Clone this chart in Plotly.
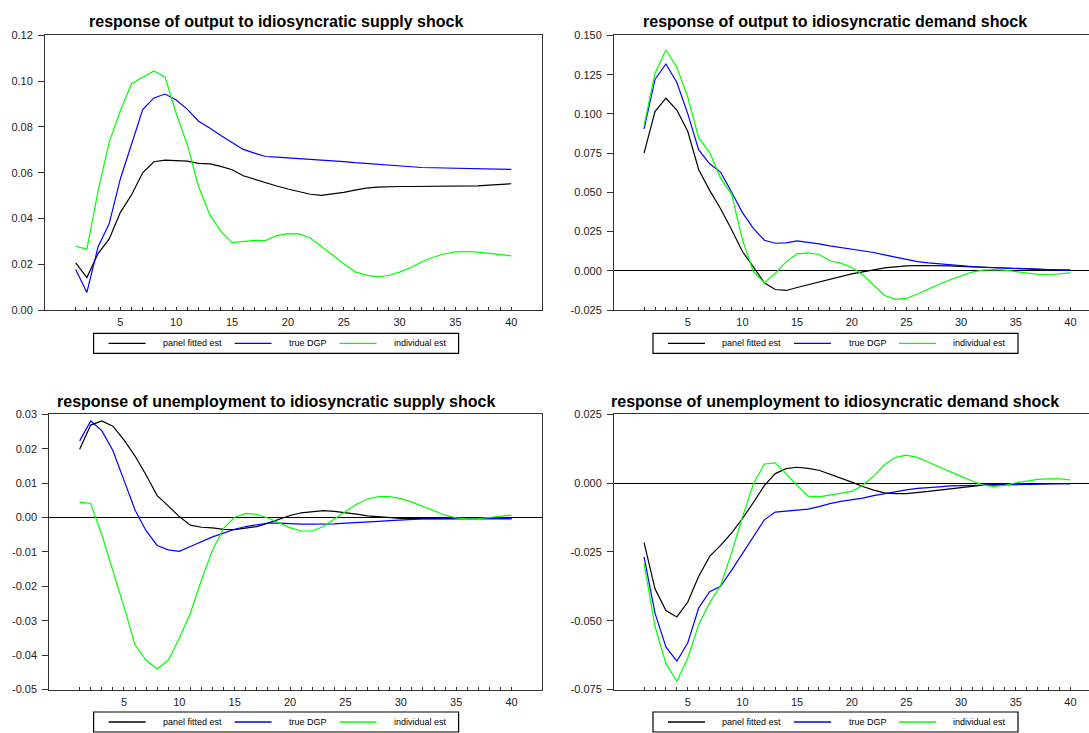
import plotly.graph_objects as go

W, H = 1089, 733
horizon = list(range(1, 41))

# Panel 1: response of output to idiosyncratic supply shock
out_sup_panel = [0.0206, 0.0142, 0.0247, 0.0311, 0.0427, 0.0504, 0.0600, 0.0648, 0.0655, 0.0652,
                 0.0651, 0.0641, 0.0639, 0.0628, 0.0613, 0.0587, 0.0571, 0.0555, 0.0542, 0.0529,
                 0.0517, 0.0506, 0.0501, 0.0506, 0.0514, 0.0524, 0.0533, 0.0537, 0.0540, 0.0540,
                 0.0540, 0.0540, 0.0540, 0.0540, 0.0541, 0.0542, 0.0543, 0.0546, 0.0549, 0.0552]
out_sup_true = [0.0177, 0.0077, 0.0276, 0.0378, 0.0574, 0.0726, 0.0876, 0.0927, 0.0944, 0.0918,
                0.0877, 0.0825, 0.0796, 0.0763, 0.0734, 0.0702, 0.0686, 0.0671, 0.0668, 0.0665,
                0.0663, 0.0661, 0.0658, 0.0654, 0.0649, 0.0644, 0.0640, 0.0636, 0.0632, 0.0629,
                0.0626, 0.0623, 0.0622, 0.0621, 0.0619, 0.0618, 0.0617, 0.0616, 0.0615, 0.0615]
out_sup_indiv = [0.0279, 0.0266, 0.0520, 0.0734, 0.0872, 0.0989, 0.1017, 0.1045, 0.1018, 0.0859,
                 0.0721, 0.0540, 0.0417, 0.0344, 0.0295, 0.0299, 0.0305, 0.0304, 0.0325, 0.0334,
                 0.0333, 0.0315, 0.0280, 0.0241, 0.0202, 0.0167, 0.0153, 0.0145, 0.0151, 0.0166,
                 0.0186, 0.0211, 0.0231, 0.0245, 0.0254, 0.0256, 0.0253, 0.0247, 0.0243, 0.0237]

# Panel 2: response of output to idiosyncratic demand shock
out_dem_panel = [0.0750, 0.1015, 0.1100, 0.1025, 0.0888, 0.0644, 0.0513, 0.0396, 0.0263, 0.0123,
                 0.0025, -0.0076, -0.0119, -0.0125, -0.0106, -0.0089, -0.0068, -0.0051, -0.0034, -0.0019,
                 -0.0006, 0.0008, 0.0019, 0.0025, 0.0032, 0.0034, 0.0034, 0.0034, 0.0032, 0.0028,
                 0.0025, 0.0022, 0.0020, 0.0018, 0.0015, 0.0012, 0.0010, 0.0008, 0.0006, 0.0004]
out_dem_true = [0.0905, 0.1220, 0.1318, 0.1200, 0.1000, 0.0771, 0.0682, 0.0629, 0.0502, 0.0371,
                0.0271, 0.0195, 0.0176, 0.0178, 0.0191, 0.0182, 0.0172, 0.0159, 0.0148, 0.0138,
                0.0129, 0.0117, 0.0102, 0.0087, 0.0072, 0.0059, 0.0051, 0.0044, 0.0038, 0.0032,
                0.0027, 0.0023, 0.0020, 0.0016, 0.0013, 0.0011, 0.0009, 0.0007, 0.0005, 0.0004]
out_dem_indiv = [0.0926, 0.1258, 0.1407, 0.1297, 0.1106, 0.0847, 0.0754, 0.0591, 0.0489, 0.0199,
                 -0.0006, -0.0076, -0.0017, 0.0059, 0.0108, 0.0114, 0.0104, 0.0064, 0.0049, 0.0021,
                 -0.0025, -0.0093, -0.0157, -0.0182, -0.0176, -0.0148, -0.0114, -0.0085, -0.0057, -0.0032,
                 -0.0008, 0.0004, 0.0008, 0.0004, -0.0006, -0.0017, -0.0023, -0.0025, -0.0021, -0.0013]

# Panel 3: response of unemployment to idiosyncratic supply shock
un_sup_panel = [0.0199, 0.0269, 0.0281, 0.0266, 0.0226, 0.0179, 0.0124, 0.0064, 0.0034, 0.0003,
                -0.0022, -0.0028, -0.0030, -0.0034, -0.0035, -0.0030, -0.0026, -0.0016, -0.0005, 0.0006,
                0.0014, 0.0018, 0.0020, 0.0018, 0.0015, 0.0010, 0.0005, 0.0002, 0.0000, -0.0002,
                -0.0003, -0.0003, -0.0003, -0.0003, -0.0003, -0.0003, -0.0003, -0.0003, -0.0003, -0.0003]
un_sup_true = [0.0223, 0.0281, 0.0253, 0.0195, 0.0109, 0.0022, -0.0038, -0.0081, -0.0094, -0.0098,
               -0.0084, -0.0070, -0.0056, -0.0045, -0.0034, -0.0026, -0.0020, -0.0016, -0.0016, -0.0018,
               -0.0019, -0.0019, -0.0019, -0.0018, -0.0016, -0.0015, -0.0013, -0.0011, -0.0009, -0.0007,
               -0.0005, -0.0004, -0.0004, -0.0003, -0.0003, -0.0003, -0.0003, -0.0003, -0.0003, -0.0003]
un_sup_indiv = [0.0045, 0.0041, -0.0050, -0.0152, -0.0259, -0.0370, -0.0415, -0.0440, -0.0415, -0.0351,
                -0.0278, -0.0181, -0.0094, -0.0031, 0.0001, 0.0012, 0.0009, -0.0001, -0.0016, -0.0029,
                -0.0039, -0.0039, -0.0026, -0.0005, 0.0017, 0.0039, 0.0054, 0.0061, 0.0061, 0.0055,
                0.0045, 0.0032, 0.0019, 0.0007, -0.0001, -0.0004, -0.0003, 0.0000, 0.0003, 0.0007]

# Panel 4: response of unemployment to idiosyncratic demand shock
un_dem_panel = [-0.0216, -0.0384, -0.0463, -0.0486, -0.0432, -0.0338, -0.0266, -0.0226, -0.0181, -0.0129,
                -0.0070, -0.0009, 0.0035, 0.0053, 0.0058, 0.0054, 0.0047, 0.0033, 0.0019, 0.0004,
                -0.0012, -0.0025, -0.0035, -0.0038, -0.0038, -0.0035, -0.0030, -0.0025, -0.0020, -0.0015,
                -0.0010, -0.0007, -0.0005, -0.0004, -0.0004, -0.0003, -0.0002, -0.0002, -0.0002, -0.0002]
un_dem_true = [-0.0268, -0.0472, -0.0595, -0.0647, -0.0580, -0.0453, -0.0394, -0.0375, -0.0317, -0.0256,
               -0.0191, -0.0133, -0.0105, -0.0101, -0.0099, -0.0094, -0.0085, -0.0074, -0.0066, -0.0060,
               -0.0054, -0.0045, -0.0038, -0.0030, -0.0024, -0.0019, -0.0015, -0.0013, -0.0010, -0.0009,
               -0.0008, -0.0007, -0.0006, -0.0005, -0.0004, -0.0003, -0.0003, -0.0002, -0.0002, -0.0002]
un_dem_indiv = [-0.0292, -0.0520, -0.0656, -0.0720, -0.0635, -0.0514, -0.0435, -0.0372, -0.0254, -0.0123,
                -0.0003, 0.0070, 0.0074, 0.0035, -0.0009, -0.0047, -0.0050, -0.0044, -0.0038, -0.0030,
                -0.0007, 0.0025, 0.0067, 0.0094, 0.0102, 0.0094, 0.0076, 0.0058, 0.0041, 0.0025,
                0.0008, -0.0007, -0.0012, -0.0008, 0.0001, 0.0008, 0.0014, 0.0016, 0.0016, 0.0012]

titles = ["response of output to idiosyncratic supply shock",
          "response of output to idiosyncratic demand shock",
          "response of unemployment to idiosyncratic supply shock",
          "response of unemployment to idiosyncratic demand shock"]
series_names = ["panel fitted est", "true DGP", "individual est"]
series_colors = ["#000000", "#0000ff", "#00ff00"]

y_ticks = [
    [0.00, 0.02, 0.04, 0.06, 0.08, 0.10, 0.12],
    [-0.025, 0.000, 0.025, 0.050, 0.075, 0.100, 0.125, 0.150],
    [-0.05, -0.04, -0.03, -0.02, -0.01, 0.00, 0.01, 0.02, 0.03],
    [-0.075, -0.050, -0.025, 0.000, 0.025],
]
y_fmt = [".2f", ".3f", ".2f", ".3f"]
x_ticks = [5, 10, 15, 20, 25, 30, 35, 40]

panels = [
    [out_sup_panel, out_sup_true, out_sup_indiv],
    [out_dem_panel, out_dem_true, out_dem_indiv],
    [un_sup_panel, un_sup_true, un_sup_indiv],
    [un_dem_panel, un_dem_true, un_dem_indiv],
]

# layout in pixels: (left, right, top, bottom), x range
boxes = [(45, 542, 35, 310), (614, 1089, 35, 310), (49.3, 542, 414.5, 690), (614, 1089, 414.5, 690)]
x_ranges = [[-1.75, 42.75], [-1.75, 41.7], [-1.74, 42.75], [-1.75, 41.7]]
title_pos = [(276, 21.5), (835, 21.5), (276, 401.5), (835, 401.5)]
legend_pos = [(93.6, 333.3), (653, 333.3), (93.6, 712.5), (653, 712.5)]

# empirical vertical correction of the capture
def vfix(y):
    return (y - 5.5) / 0.985

def px(x):
    return x / W

def py(y):
    return 1 - vfix(y) / H

fig = go.Figure()
font_fam = "Liberation Sans, Arial, sans-serif"
shapes = []
annotations = []

for i, data in enumerate(panels):
    n = i + 1
    xa = "x" if n == 1 else f"x{n}"
    ya = "y" if n == 1 else f"y{n}"
    for vals, name, col in zip(data, series_names, series_colors):
        fig.add_trace(go.Scatter(x=horizon, y=vals, mode="lines", name=name,
                                 line=dict(color=col, width=1.2), showlegend=False,
                                 xaxis=xa, yaxis=ya))
    l, r, t, b = boxes[i]
    yt = y_ticks[i]
    xkey = "xaxis" if n == 1 else f"xaxis{n}"
    ykey = "yaxis" if n == 1 else f"yaxis{n}"
    fig.update_layout(**{
        xkey: dict(domain=[px(l), px(r)], range=x_ranges[i], anchor=ya,
                   showgrid=False, zeroline=False, showline=True, linecolor="#333333",
                   linewidth=1, mirror=True, tickvals=x_ticks, ticktext=[str(v) for v in x_ticks],
                   ticks="inside", ticklen=3, tickcolor="#333333",
                   minor=dict(tickvals=horizon, ticks="inside", ticklen=3, tickcolor="#333333"),
                   tickfont=dict(family=font_fam, size=11, color="#222222"),
                   ticklabelstandoff=2),
        ykey: dict(domain=[py(b), py(t)], range=[yt[0], yt[-1]], anchor=xa,
                   showgrid=False, zeroline=True, zerolinecolor="#000000", zerolinewidth=1,
                   showline=True, linecolor="#333333", linewidth=1,
                   mirror=(n in (1, 3)),
                   tickvals=yt, ticktext=[format(v, y_fmt[i]) for v in yt],
                   ticks="outside", ticklen=6, tickcolor="#333333",
                   tickfont=dict(family=font_fam, size=11, color="#222222"),
                   ticklabelstandoff=3),
    })
    tx, ty = title_pos[i]
    annotations.append(dict(x=px(tx), y=py(ty), xref="paper", yref="paper",
                            text=f"<b>{titles[i]}</b>", showarrow=False,
                            xanchor="center", yanchor="middle",
                            font=dict(family=font_fam, size=16, color="#000000")))
    # legend box
    lx, ly = legend_pos[i]
    shapes.append(dict(type="rect", xref="paper", yref="paper",
                       x0=px(lx), x1=px(lx + 365), y0=py(ly), y1=py(ly + 20),
                       line=dict(color="#000000", width=1.2), fillcolor="rgba(0,0,0,0)"))
    offsets = [(15, 67), (141, 193.5), (246, 298)]
    for (lo, to), name, col in zip(offsets, series_names, series_colors):
        shapes.append(dict(type="line", xref="paper", yref="paper",
                           x0=px(lx + lo), x1=px(lx + lo + 37), y0=py(ly + 10), y1=py(ly + 10),
                           line=dict(color=col, width=1.3)))
        annotations.append(dict(x=px(lx + to), y=py(ly + 10), xref="paper", yref="paper",
                                text=name, showarrow=False, xanchor="left", yanchor="middle",
                                font=dict(family=font_fam, size=9, color="#000000")))

fig.update_layout(width=W, height=H, margin=dict(l=0, r=0, t=0, b=0),
                  paper_bgcolor="white", plot_bgcolor="white",
                  shapes=shapes, annotations=annotations, showlegend=False)

post = (
    "document.documentElement.style.margin='0px';"
    "document.documentElement.style.padding='0px';"
    "document.documentElement.style.overflow='hidden';"
    "document.body.style.margin='0px';"
    "document.body.style.padding='0px';"
    "document.body.style.overflow='hidden';"
    "var gd=document.getElementsByClassName('plotly-graph-div')[0];"
    "gd.style.position='fixed';gd.style.top='0px';gd.style.left='0px';"
)
fig.write_html("out.html", config={"displayModeBar": False}, post_script=post)
